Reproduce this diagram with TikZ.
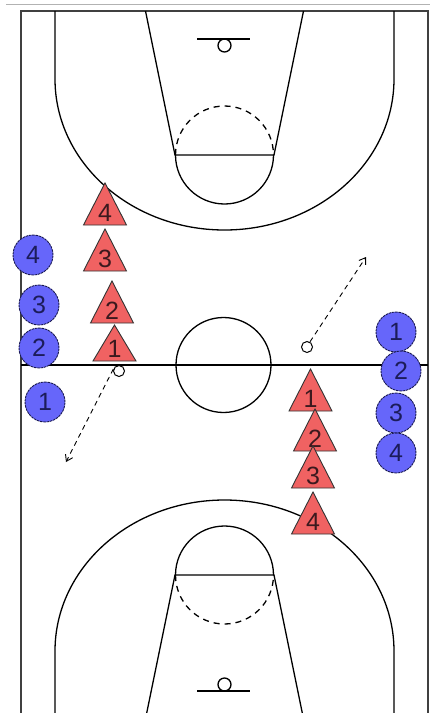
\documentclass[tikz,border=0pt]{standalone}
\usepackage{fontspec}
\setmainfont{Liberation Sans}
\usetikzlibrary{arrows.meta}
\definecolor{offblue}{RGB}{102,102,250}
\definecolor{offline}{RGB}{25,25,80}
\definecolor{offtext}{RGB}{28,28,90}
\definecolor{conered}{RGB}{240,98,98}
\definecolor{conetext}{RGB}{60,25,30}
\newcommand\conemark[5][42]{%
  \path[cone] (#3-21.5,#4+#1) -- (#3,#4) -- (#3+21.5,#4+#1) -- cycle;
  \node[conelab] (#2) at (#3,#4+#1-4) {#5};}
\begin{document}
\begin{tikzpicture}[x=1pt,y=-1pt,
  court/.style={draw=black!75,line width=2pt},
  cline/.style={draw=black,line width=1.3pt},
  dline/.style={draw=black,line width=1.3pt,dash pattern=on 6pt off 5pt},
  off/.style={circle,draw=offline,line width=0.9pt,dash pattern=on 2.5pt off 0.8pt,fill=offblue,minimum size=40pt,inner sep=0pt,font=\fontsize{25}{25}\selectfont,text=offtext},
  cone/.style={fill=conered,draw=black!80,line width=0.9pt,line join=miter},
  conelab/.style={anchor=base,inner sep=0pt,font=\fontsize{25}{25}\selectfont,text=conetext},
  ball/.style={circle,draw=black,line width=1pt,fill=white,minimum size=11pt,inner sep=0pt},
  pass/.style={draw=black,line width=0.9pt,dash pattern=on 5pt off 4pt,-{Straight Barb[length=6pt,width=8pt]}}
]
\useasboundingbox (0,0) rectangle (430,713);
\fill[white] (0,0) rectangle (430,713);
\draw[black!30,line width=1pt] (6,4) -- (430,4);
% court border
\draw[court] (21,713) -- (21,11) -- (428,11) -- (428,713);
% half-court line and centre circle
\draw[cline] (21,365) -- (428,365);
\draw[cline] (223.5,365) circle[radius=47.5];
% top half
\draw[cline] (55,11) -- (55,79) arc[start angle=180,end angle=0,x radius=169.5,y radius=151] -- (394,11);
\draw[cline] (145.5,11) -- (175,155) -- (274,155) -- (303.5,11);
\draw[cline] (175.5,155) arc[start angle=180,end angle=0,radius=49];
\draw[dline] (175.5,155) arc[start angle=180,end angle=360,radius=49];
\draw[cline] (197,39) -- (250,39);
\draw[cline] (224.5,45.5) circle[radius=6.5];
% bottom half
\draw[cline] (55,713) -- (55,651) arc[start angle=180,end angle=360,x radius=169.5,y radius=151] -- (394,713);
\draw[cline] (146.7,713) -- (175,575) -- (274,575) -- (302.3,713);
\draw[cline] (175.5,575) arc[start angle=180,end angle=360,radius=49];
\draw[dline] (175.5,575) arc[start angle=180,end angle=0,radius=49];
\draw[cline] (197,691) -- (250,691);
\draw[cline] (224.5,684.5) circle[radius=6.5];
% cones left
\conemark{l4}{105}{183}{4}
\conemark{l3}{105}{229}{3}
\conemark[36]{l1}{114.5}{325}{1}
\conemark{l2}{112}{281}{2}
% cones right
\conemark{r1}{310.5}{369}{1}
\conemark{r2}{315}{409}{2}
\conemark{r3}{313}{446}{3}
\conemark{r4}{313}{492}{4}
% players left
\node[off] (p4) at (33,255) {4};
\node[off] (p3) at (39,305) {3};
\node[off] (p2) at (39,348) {2};
\node[off] (p1) at (45,402) {1};
% players right
\node[off] (q1) at (396,332) {1};
\node[off] (q3) at (396,413) {3};
\node[off] (q4) at (396,453) {4};
\node[off] (q2) at (401,371) {2};
% balls and passes
\node[ball] (bl) at (119,371) {};
\node[ball] (br) at (307,347) {};
\coordinate (al) at (66,462);
\coordinate (ar) at (366,257);
\draw[pass] (bl.160) -- (al);
\draw[pass] (br.60) -- (ar);
\end{tikzpicture}
\end{document}
